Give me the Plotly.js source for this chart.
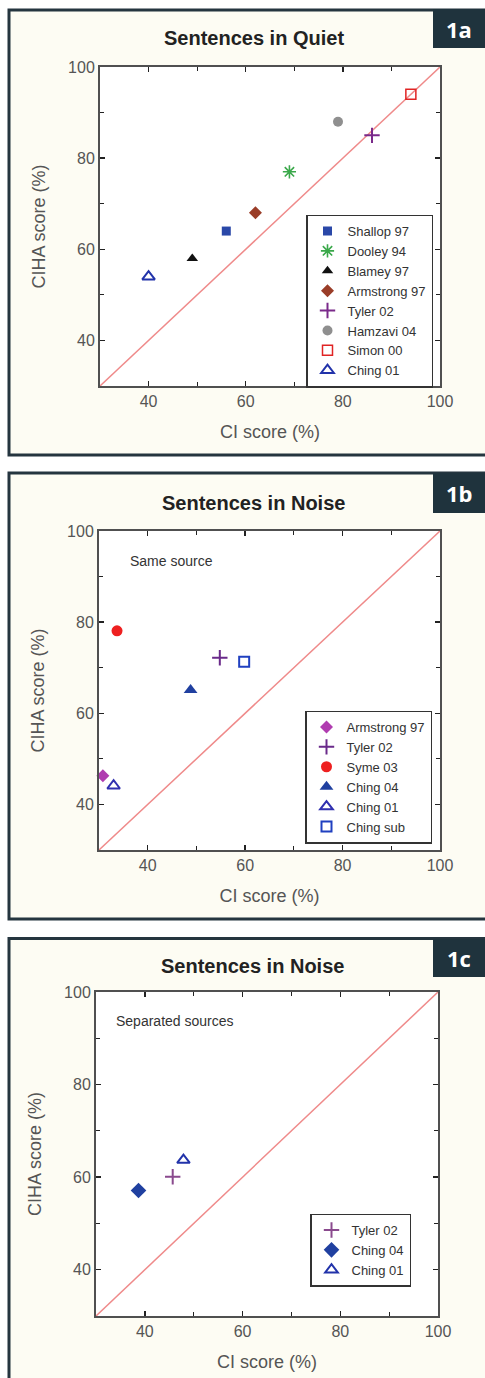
<!DOCTYPE html>
<html><head><meta charset="utf-8">
<script src="https://cdn.plot.ly/plotly-3.0.1.min.js"></script>
<style>html,body{margin:0;padding:0;background:#fff}#chart{width:485px;height:1378px}</style>
</head><body><div id="chart"></div>
<script>
// ---------- data ----------
const diagX = [30, 100];
const diagY = [30, 100];
const tickVals = [40, 60, 80, 100];
const tickText = ['40', '60', '80', '100'];
const minorVals = [50, 70, 90];

const quietNames = ['Shallop 97', 'Dooley 94', 'Blamey 97', 'Armstrong 97', 'Tyler 02', 'Hamzavi 04', 'Simon 00', 'Ching 01'];
const quietCI    = [56, 69, 49, 62, 86, 79, 94, 40];
const quietCIHA  = [64, 77, 58, 68, 85, 88, 94, 54];

const sameNames = ['Armstrong 97', 'Tyler 02', 'Syme 03', 'Ching 04', 'Ching 01', 'Ching sub'];
const sameCI    = [30.8, 54.8, 33.7, 48.8, 33.0, 59.8];
const sameCIHA  = [46.3, 72.2, 78.1, 65.1, 44.1, 71.3];

const sepNames = ['Tyler 02', 'Ching 04', 'Ching 01'];
const sepCI    = [45.7, 38.7, 47.9];
const sepCIHA  = [60.1, 57.1, 63.7];

const panelTitles = ['Sentences in Quiet', 'Sentences in Noise', 'Sentences in Noise'];
const panelNotes = ['', 'Same source', 'Separated sources'];
const badges = ['1a', '1b', '1c'];
const xTitle = 'CI score (%)';
const yTitle = 'CIHA score (%)';

// ---------- styles ----------
const quietStyles = [
  {symbol: 'square', color: '#2a48a8', size: 9},
  {symbol: 'asterisk-open', color: '#3aa84a', size: 11, lw: 1.6},
  {symbol: 'triangle-up', color: '#111111', size: 10},
  {symbol: 'diamond', color: '#9a3d28', size: 10},
  {symbol: 'cross-thin-open', color: '#7a2a8a', size: 11, lw: 2},
  {symbol: 'circle', color: '#8f8f8f', size: 10},
  {symbol: 'square-open', color: '#e02424', size: 10, lw: 1.5},
  {symbol: 'triangle-up-open', color: '#2233aa', size: 11, lw: 2}
];
const sameStyles = [
  {symbol: 'diamond', color: '#b03cb0', size: 10},
  {symbol: 'cross-thin-open', color: '#6a2a8a', size: 11, lw: 2},
  {symbol: 'circle', color: '#ee2020', size: 11},
  {symbol: 'triangle-up', color: '#2040a0', size: 12},
  {symbol: 'triangle-up-open', color: '#3030b0', size: 11, lw: 2},
  {symbol: 'square-open', color: '#2040c0', size: 10, lw: 2}
];
const sepStyles = [
  {symbol: 'cross-thin-open', color: '#8a4a8e', size: 11, lw: 2},
  {symbol: 'diamond', color: '#2040a0', size: 12},
  {symbol: 'triangle-up-open', color: '#2233aa', size: 11, lw: 2}
];

const W = 485, H = 1378;
const px = v => v / W;
const py = v => 1 - v / H;

function markerOf(s) {
  const m = {symbol: s.symbol, size: s.size, color: s.color};
  if (s.lw) m.line = {color: s.color, width: s.lw};
  else m.line = {width: 0};
  return m;
}

const traces = [];
function addPanel(names, xs, ys, styles, ax, leg) {
  traces.push({
    type: 'scatter', mode: 'lines', x: diagX, y: diagY,
    xaxis: 'x' + ax, yaxis: 'y' + ax, showlegend: false, hoverinfo: 'skip',
    line: {color: '#ef8a8a', width: 1.5}
  });
  names.forEach((n, i) => {
    traces.push({
      type: 'scatter', mode: 'markers', name: n,
      x: [xs[i]], y: [ys[i]],
      xaxis: 'x' + ax, yaxis: 'y' + ax, legend: leg,
      marker: markerOf(styles[i]), cliponaxis: false
    });
  });
}
addPanel(quietNames, quietCI, quietCIHA, quietStyles, '', 'legend');
addPanel(sameNames, sameCI, sameCIHA, sameStyles, '2', 'legend2');
addPanel(sepNames, sepCI, sepCIHA, sepStyles, '3', 'legend3');

const FONT = 'Liberation Sans, Arial, sans-serif';

function axis(domain, title, isY, anchor) {
  return {
    domain: domain, anchor: anchor, range: [30, 100],
    showline: true, linecolor: '#505050', linewidth: 2, mirror: 'ticks',
    ticks: 'inside', ticklen: 5, tickwidth: 1.5, tickcolor: '#222',
    tickmode: 'array', tickvals: tickVals, ticktext: tickText,
    minor: {tickmode: 'array', tickvals: minorVals, ticks: 'inside', ticklen: 4, tickcolor: '#222', tickwidth: 1.2},
    showgrid: false, zeroline: false, fixedrange: true,
    tickfont: {family: FONT, size: 16, color: '#555'},
    automargin: false,
    title: {text: title, font: {family: FONT, size: 18, color: '#555'}, standoff: isY ? 18 : 16}
  };
}

// panel geometry in pixels
const panels = [
  {frame: [9, 10, 455], plot: [100, 440, 67, 386], badge: [9, 48], title: [254, 38], note: null, legend: [306, 301]},
  {frame: [9, 473, 919], plot: [99, 440, 531, 850], badge: [473, 513], title: [253, 503], note: [128, 561], legend: [305, 777]},
  {frame: [9, 938.5, 1400], plot: [96, 438, 992, 1316], badge: [939, 977], title: [252, 966], note: [114, 1021], legend: [310, 1250]}
];

const layout = {
  width: W, height: H, margin: {l: 0, r: 0, t: 0, b: 0, pad: 0, autoexpand: false},
  paper_bgcolor: '#ffffff', plot_bgcolor: '#ffffff',
  font: {family: FONT, color: '#333'},
  showlegend: true, hovermode: false,
  shapes: [], annotations: []
};

const suffix = ['', '2', '3'];
const legKeys = ['legend', 'legend2', 'legend3'];
panels.forEach((p, k) => {
  const s = suffix[k];
  layout['xaxis' + s] = axis([px(p.plot[0]), px(p.plot[1])], xTitle, false, 'y' + s);
  layout['yaxis' + s] = axis([py(p.plot[3]), py(p.plot[2])], yTitle, true, 'x' + s);
  // frame
  layout.shapes.push({type: 'rect', xref: 'paper', yref: 'paper', layer: 'below',
    x0: px(p.frame[0]), x1: px(W + 20), y0: py(p.frame[2]), y1: py(p.frame[1]),
    fillcolor: '#fdfcf3', line: {color: '#25353f', width: 3}});
  // white plot area
  layout.shapes.push({type: 'rect', xref: 'paper', yref: 'paper', layer: 'below',
    x0: px(p.plot[0]), x1: px(p.plot[1]), y0: py(p.plot[3]), y1: py(p.plot[2]),
    fillcolor: '#ffffff', line: {width: 0}});
  // badge
  layout.shapes.push({type: 'rect', xref: 'paper', yref: 'paper', layer: 'above',
    x0: px(433), x1: px(W + 10), y0: py(p.badge[1]), y1: py(p.badge[0]),
    fillcolor: '#1f333d', line: {width: 0}});
  layout.annotations.push({xref: 'paper', yref: 'paper', x: px(459), y: py((p.badge[0] + p.badge[1]) / 2),
    text: '<b>' + badges[k] + '</b>', showarrow: false, xanchor: 'center', yanchor: 'middle',
    font: {family: 'Open Sans, sans-serif', size: 22, color: '#ffffff'}});
  // title
  layout.annotations.push({xref: 'paper', yref: 'paper', x: px(p.title[0]), y: py(p.title[1]),
    text: '<b>' + panelTitles[k] + '</b>', showarrow: false, xanchor: 'center', yanchor: 'middle',
    font: {family: FONT, size: 20, color: '#222'}});
  if (p.note) {
    layout.annotations.push({xref: 'paper', yref: 'paper', x: px(p.note[0]), y: py(p.note[1]),
      text: panelNotes[k], showarrow: false, xanchor: 'left', yanchor: 'middle',
      font: {family: FONT, size: 14, color: '#333'}});
  }
  layout[legKeys[k]] = {
    x: px(p.legend[0]), y: py(p.legend[1]), xanchor: 'left', yanchor: 'middle',
    bgcolor: '#ffffff', bordercolor: '#333', borderwidth: 1.5,
    font: {family: FONT, size: 13, color: '#333'},
    itemwidth: 30, tracegroupgap: 0
  };
});

Plotly.newPlot('chart', traces, layout, {displayModeBar: false, staticPlot: true});
</script>
</body></html>
